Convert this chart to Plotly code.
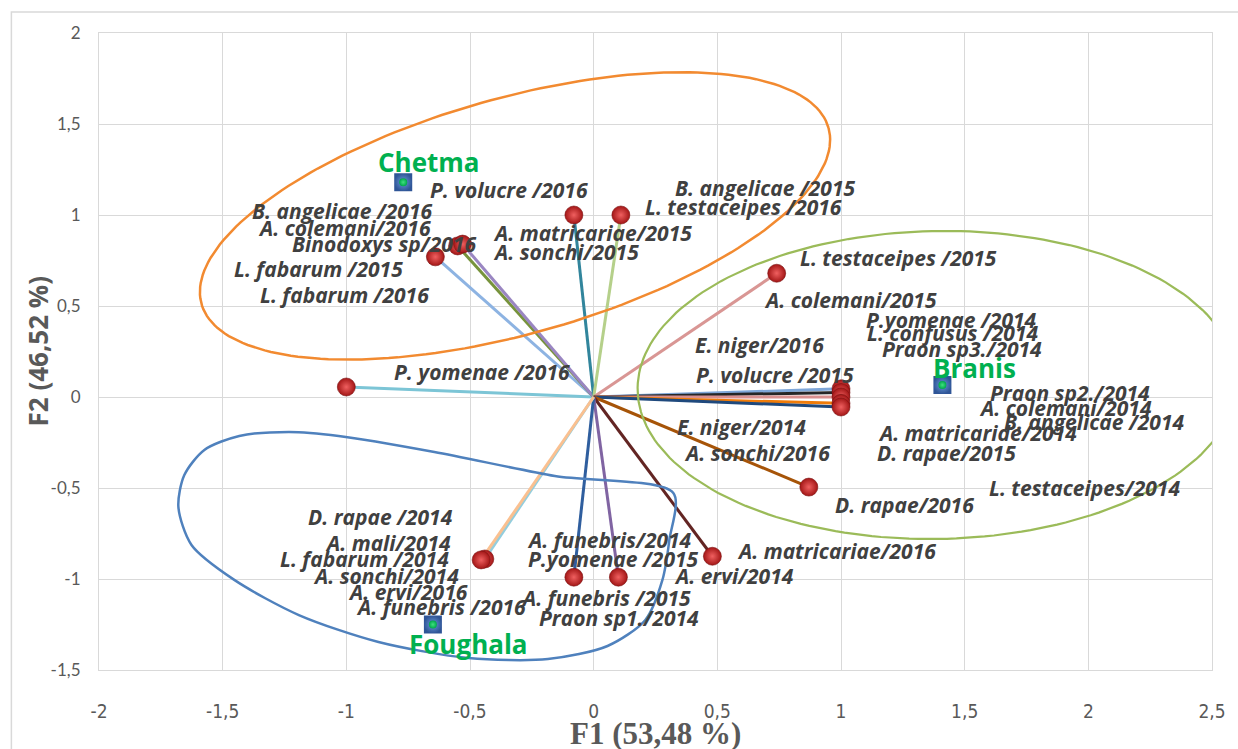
import numpy as np
import plotly.graph_objects as go

# ---------------- data ----------------
vec_names = ["P. yomenae /2016", "L. fabarum /2015", "B. angelicae /2016", "A. colemani/2016",
             "P. volucre /2016", "B. angelicae /2015", "L. testaceipes /2015", "E. niger/2016",
             "P. volucre /2015", "Praon sp3./2014", "E. niger/2014", "A. sonchi/2016",
             "D. rapae/2016", "A. matricariae/2016", "P.yomenae /2015", "A. funebris/2014",
             "A. mali/2014", "D. rapae /2014"]
vec_x = [-1.00, -0.64, -0.55, -0.53, -0.08, 0.11, 0.74, 1.00, 1.00, 1.00, 1.00, 1.00,
         0.87, 0.48, 0.10, -0.08, -0.44, -0.455]
vec_y = [0.055, 0.77, 0.83, 0.84, 1.00, 1.00, 0.68, 0.045, 0.025, 0.0, -0.035, -0.055,
         -0.495, -0.875, -0.99, -0.99, -0.89, -0.895]

site_names = ["Chetma", "Branis", "Foughala"]
site_x = [-0.77, 1.41, -0.65]
site_y = [1.18, 0.066, -1.25]

label_texts = ["P. volucre /2016", "B. angelicae /2016", "A. colemani/2016", "Binodoxys sp/2016",
               "L. fabarum /2015", "L. fabarum /2016", "B. angelicae /2015", "L. testaceipes /2016",
               "A. matricariae/2015", "A. sonchi/2015", "L. testaceipes /2015", "A. colemani/2015",
               "P.yomenae /2014", "L. confusus /2014", "Praon sp3./2014", "E. niger/2016",
               "P. volucre /2015", "Praon sp2./2014", "A. colemani/2014", "B. angelicae /2014",
               "A. matricaride/2014", "E. niger/2014", "A. sonchi/2016", "D. rapae/2015",
               "L. testaceipes/2014", "D. rapae/2016", "A. matricariae/2016", "A. ervi/2014",
               "D. rapae /2014", "A. mali/2014", "L. fabarum /2014", "A. sonchi/2014",
               "A. ervi/2016", "A. funebris /2016", "A. funebris/2014", "P.yomenae /2015",
               "A. funebris /2015", "Praon sp1./2014", "P. yomenae /2016"]

x_ticks = [-2, -1.5, -1, -0.5, 0, 0.5, 1, 1.5, 2, 2.5]
x_tick_labels = ["-2", "-1,5", "-1", "-0,5", "0", "0,5", "1", "1,5", "2", "2,5"]
y_ticks = [-1.5, -1, -0.5, 0, 0.5, 1, 1.5, 2]
y_tick_labels = ["-1,5", "-1", "-0,5", "0", "0,5", "1", "1,5", "2"]

x_title = "F1 (53,48 %)"
y_title = "F2 (46,52 %)"

# ---------------- layout / style ----------------
W, H = 1238, 749
ML, MR, MT, MB = 99, 21, 33, 79
XR = [-2, 2.5]
YR = [-1.5, 2]
sx = (W - ML - MR) / (XR[1] - XR[0])
sy = (H - MT - MB) / (YR[1] - YR[0])

vec_colors = ["#7cc5d6", "#8db3e2", "#77933c", "#9a86c2", "#31859c", "#b5d08a", "#d99694",
              "#7ea6d8", "#262626", "#d9908f", "#f07c0a", "#1f497d", "#a65408", "#632523",
              "#8064a2", "#2f5e9e", "#93cddd", "#fac090"]

# label centres (data coords)
label_pos = [(-0.342, 1.137), (-1.019, 1.022), (-1.006, 0.929), (-0.849, 0.841),
             (-1.111, 0.703), (-1.006, 0.560), (0.692, 1.148), (0.604, 1.044),
             (-0.004, 0.901), (-0.113, 0.797), (1.232, 0.764), (1.039, 0.533),
             (1.445, 0.423), (1.453, 0.352), (1.490, 0.264), (0.672, 0.286),
             (0.733, 0.121), (1.924, 0.022), (1.908, -0.060), (2.021, -0.137),
             (1.550, -0.198), (0.596, -0.165), (0.660, -0.308), (1.425, -0.308),
             (1.985, -0.500), (1.256, -0.593), (0.982, -0.846), (0.568, -0.984),
             (-0.862, -0.659), (-0.833, -0.802), (-0.926, -0.890), (-0.841, -0.984),
             (-0.749, -1.071), (-0.616, -1.154), (0.064, -0.786), (0.081, -0.890),
             (0.048, -1.104), (0.101, -1.214), (-0.451, 0.137)]
site_label_pos = [(-0.664, 1.291), (1.538, 0.159), (-0.507, -1.357)]

# group outlines: ellipse (centre in data, semi-axes in px, angle in deg)
def ellipse(cx, cy, a, b, ang):
    t = np.linspace(0, 2 * np.pi, 200)
    p = np.radians(ang)
    dx = a * np.cos(p) * np.cos(t) - b * np.sin(p) * np.sin(t)
    dy = a * np.sin(p) * np.cos(t) + b * np.cos(p) * np.sin(t)
    return cx + dx / sx, cy + dy / sy

blue_outline = [(0.322, -0.527), (-0.157, -0.434), (-0.644, -0.302), (-1.031, -0.214),
                (-1.232, -0.192), (-1.433, -0.214), (-1.574, -0.291), (-1.655, -0.429),
                (-1.679, -0.604), (-1.626, -0.813), (-1.453, -1.005), (-1.192, -1.198),
                (-0.870, -1.346), (-0.507, -1.434), (-0.185, -1.440), (0.056, -1.368),
                (0.209, -1.225), (0.278, -1.005), (0.306, -0.786), (0.322, -0.527)]

fig = go.Figure()

# vectors
for n, vx, vy, c in zip(vec_names, vec_x, vec_y, vec_colors):
    fig.add_trace(go.Scatter(x=[0, vx], y=[0, vy], mode="lines", name=n,
                             line=dict(color=c, width=3), hoverinfo="skip", showlegend=False))

# outlines
ox, oy = ellipse(-0.318, 0.995, 327, 118, 15.6)
fig.add_trace(go.Scatter(x=ox, y=oy, mode="lines", line=dict(color="#f28a30", width=2.5),
                         hoverinfo="skip", showlegend=False))
gx, gy = ellipse(1.389, 0.066, 301, 154, 1.0)
fig.add_trace(go.Scatter(x=gx, y=gy, mode="lines", line=dict(color="#9bbb59", width=2.2),
                         hoverinfo="skip", showlegend=False))
fig.add_trace(go.Scatter(x=[p[0] for p in blue_outline], y=[p[1] for p in blue_outline],
                         mode="lines", line=dict(color="#4f81bd", width=2.5, shape="spline",
                                                 smoothing=0.8),
                         hoverinfo="skip", showlegend=False))

# variable end points (red spheres)
fig.add_trace(go.Scatter(x=vec_x, y=vec_y, mode="markers", text=vec_names,
                         marker=dict(size=18, color="#a31616",
                                     gradient=dict(type="radial", color="#f06060"),
                                     line=dict(width=0.6, color="#7a1010")),
                         showlegend=False))

# sites (blue squares with green centre)
fig.add_trace(go.Scatter(x=site_x, y=site_y, mode="markers", text=site_names,
                         marker=dict(size=18, symbol="square", color="#2f5597",
                                     gradient=dict(type="radial", color="#6a9ad8"),
                                     line=dict(width=0)),
                         showlegend=False))
fig.add_trace(go.Scatter(x=site_x, y=site_y, mode="markers", hoverinfo="skip",
                         marker=dict(size=8, color="#00a84a",
                                     gradient=dict(type="radial", color="#40e080"),
                                     line=dict(width=0)),
                         showlegend=False))

annotations = []
for t, (lx, ly) in zip(label_texts, label_pos):
    annotations.append(dict(x=lx, y=ly, xref="x", yref="y", text=t, showarrow=False,
                            xanchor="center", yanchor="middle",
                            font=dict(family="Open Sans", size=21, color="#404040",
                                      weight="bold", style="italic")))
for t, (lx, ly) in zip(site_names, site_label_pos):
    annotations.append(dict(x=lx, y=ly, xref="x", yref="y", text=t, showarrow=False,
                            xanchor="center", yanchor="middle",
                            font=dict(family="Open Sans", size=26, color="#00b050",
                                      weight="bold")))
annotations.append(dict(x=0.5, y=0, xref="paper", yref="paper", text=x_title, showarrow=False,
                        xanchor="center", yanchor="top", yshift=-44,
                        font=dict(family="Liberation Serif", size=31, color="#595959",
                                  weight="bold")))
annotations.append(dict(x=0, y=0.5, xref="paper", yref="paper", text=y_title, showarrow=False,
                        xanchor="center", yanchor="middle", xshift=-62, textangle=-90,
                        font=dict(family="Open Sans", size=26, color="#595959",
                                  weight="bold")))

axis_common = dict(showgrid=True, gridcolor="#d9d9d9", gridwidth=1.2,
                   zeroline=True, zerolinecolor="#d9d9d9", zerolinewidth=1.2,
                   showline=True, linecolor="#d9d9d9", linewidth=1.2, mirror=True,
                   ticks="", fixedrange=True)

fig.update_layout(
    width=W, height=H, autosize=False,
    margin=dict(l=ML, r=MR, t=MT, b=MB, pad=0),
    paper_bgcolor="white", plot_bgcolor="white",
    xaxis=dict(range=XR, tickvals=x_ticks, ticktext=x_tick_labels, ticklabelstandoff=24,
               tickfont=dict(family="Liberation Sans Narrow, DejaVu Sans Condensed, Roboto, sans-serif",
                             size=19, color="#595959"),
               **axis_common),
    yaxis=dict(range=YR, tickvals=y_ticks, ticktext=y_tick_labels, ticklabelstandoff=14,
               tickfont=dict(family="Lato, sans-serif", size=17, color="#595959"),
               **axis_common),
    annotations=annotations,
    shapes=[dict(type="rect", xref="paper", yref="paper",
                 x0=(11 - ML) / (W - ML - MR), x1=1.05,
                 y0=-0.2, y1=1 + (MT - 12) / (H - MT - MB),
                 line=dict(color="#d9d9d9", width=1.5), layer="below")],
    showlegend=False,
)

fig.write_html("out.html")
